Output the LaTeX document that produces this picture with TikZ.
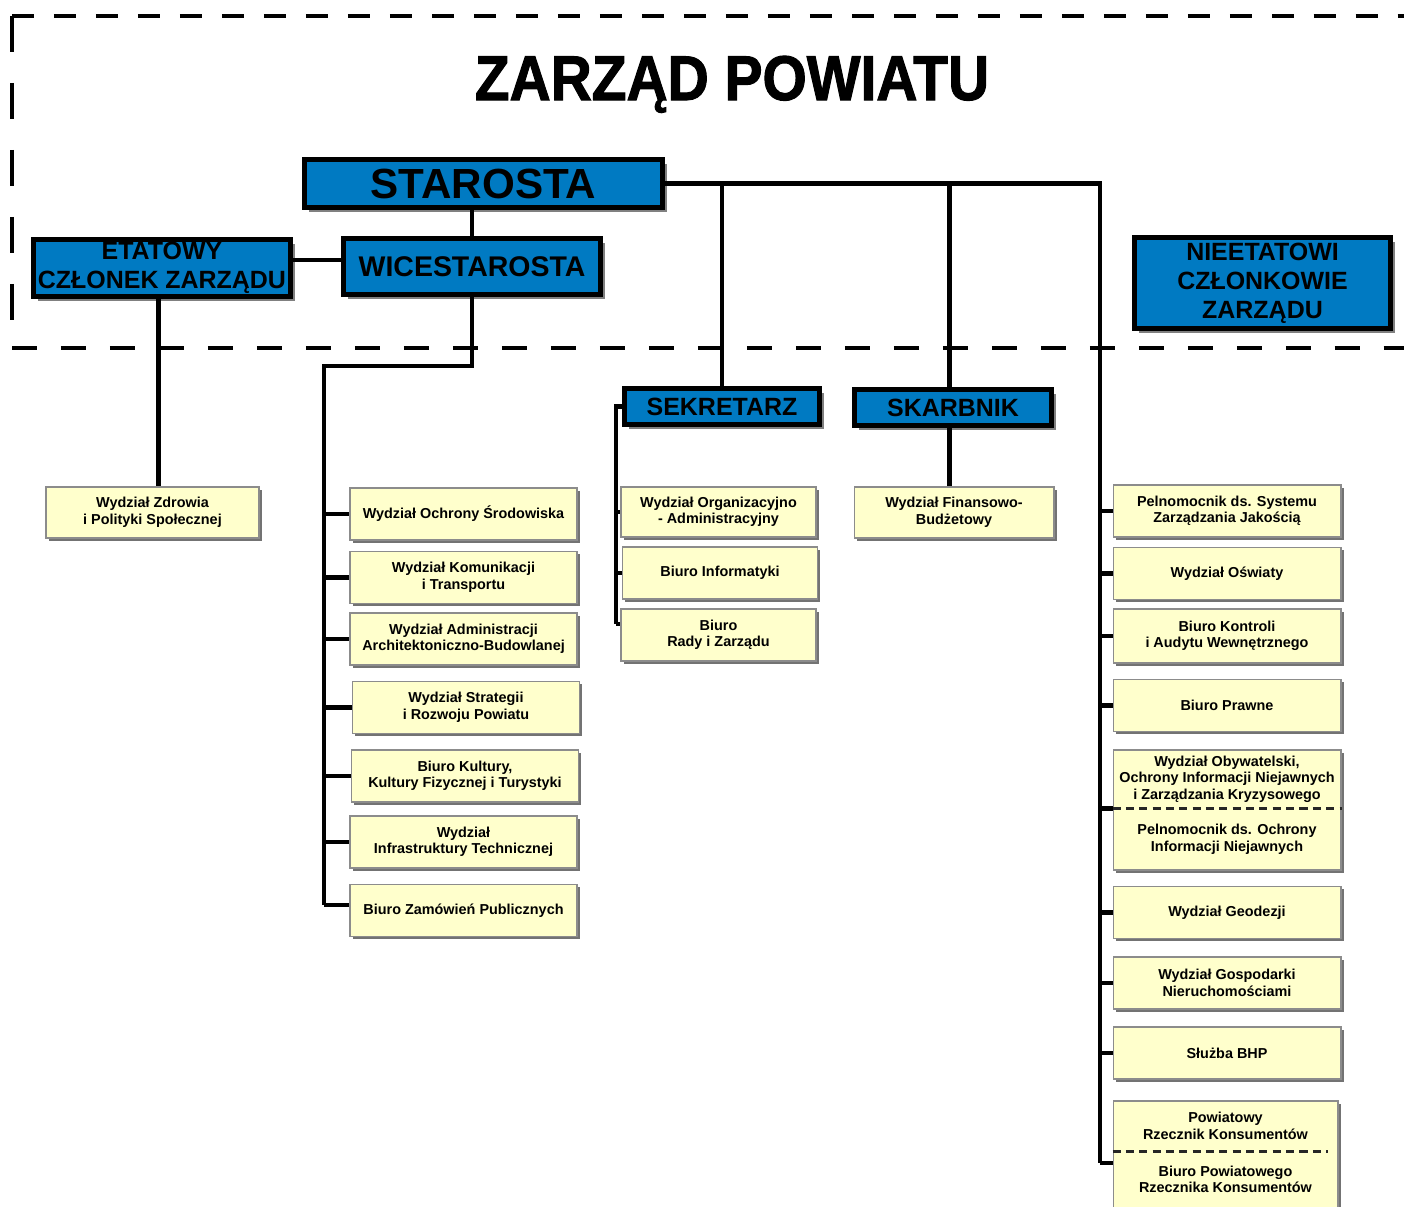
\documentclass[tikz,border=0pt]{standalone}
\usepackage{fontspec}
\setmainfont{Liberation Sans}
\newfontfamily\titlefont[FakeStretch=0.9, FakeBold=1.6]{Liberation Sans}
\usetikzlibrary{positioning, shadows}

\definecolor{boardblue}{RGB}{0,122,194}
\definecolor{unityellow}{RGB}{255,255,204}

\begin{document}
\begin{tikzpicture}[
    x = 0.02cm, y = -0.02cm,
    head/.style = {draw, line width=2.6pt, fill=boardblue, inner sep=0pt, align=center,
        drop shadow={shadow xshift=2.8pt, shadow yshift=-2.8pt, fill=black!50, opacity=1}},
    unit/.style = {draw=black!45, line width=0.6pt, fill=unityellow, inner sep=0pt, align=center,
        minimum width=#1, minimum height=1.04cm, font=\fontsize{8.2}{9.4}\selectfont\bfseries,
        drop shadow={shadow xshift=1.5pt, shadow yshift=-1.5pt, fill=black!55, opacity=1}},
    part/.style = {inner sep=0pt, align=center, font=\fontsize{8.2}{9.4}\selectfont\bfseries},
    divider/.style = {draw=black!85, line width=1.7pt, dash pattern=on 4.6pt off 3pt},
    line/.style = {line width=2.4pt},
    stub/.style = {line width=2.8pt},
    frame/.style = {line width=2.4pt}
]
    \useasboundingbox (0,0) rectangle (1404,1207);

    % Frame of the board
    \draw [frame, dash pattern=on 0.44cm off 0.4cm] (12,16) -- (1404,16);
    \draw [frame, dash pattern=on 0.72cm off 0.62cm] (12,16) -- (12,325);
    \draw [frame, line width=2.8pt, dash pattern=on 0.5cm off 0.48cm] (12,348) -- (1404,348);

    % Board
    \node [anchor=base, font=\titlefont\bfseries\fontsize{36}{40}\selectfont] (title) at (732,100) {ZARZĄD POWIATU};
    \node [head, minimum width=7.16cm, minimum height=0.96cm, font=\fontsize{24}{26}\selectfont\bfseries] (starosta) at (483.5,183.5) {STAROSTA};
    \node [head, minimum width=5.14cm, minimum height=1.12cm, font=\fontsize{16.2}{18}\selectfont\bfseries] (wicestarosta) at (472,266.5) {WICESTAROSTA};
    \node [head, minimum width=5.14cm, minimum height=1.14cm, font=\fontsize{14.2}{16.5}\selectfont\bfseries] (etatowy) at (162,268) {ETATOWY\\CZŁONEK ZARZĄDU};
    \node [head, minimum width=5.12cm, minimum height=1.82cm, font=\fontsize{14.2}{16.5}\selectfont\bfseries] (nieetatowi) at (1262.5,283) {NIEETATOWI\\CZŁONKOWIE\\ZARZĄDU};
    \node [head, minimum width=3.9cm, minimum height=0.72cm, font=\fontsize{14.2}{16}\selectfont\bfseries] (sekretarz) at (722,406.5) {SEKRETARZ};
    \node [head, minimum width=3.94cm, minimum height=0.72cm, font=\fontsize{14.2}{16}\selectfont\bfseries] (skarbnik) at (953,407.5) {SKARBNIK};

    % Units
    \node [unit=4.26cm, minimum height=1.02cm] (zdrowie) at (152.5,512.5) {Wydział Zdrowia\\i Polityki Społecznej};

    \node [unit=4.54cm] (ochrona) at (463.5,514) {Wydział Ochrony Środowiska};
    \node [unit=4.54cm] (komunikacja) at (463.5,577.5) {Wydział Komunikacji\\i Transportu};
    \node [unit=4.54cm] (architektura) at (463.5,639) {Wydział Administracji\\Architektoniczno-Budowlanej};
    \node [unit=4.54cm] (strategia) at (466,707.5) {Wydział Strategii\\i Rozwoju Powiatu};
    \node [unit=4.54cm] (kultura) at (465,776) {Biuro Kultury,\\Kultury Fizycznej i Turystyki};
    \node [unit=4.54cm] (infrastruktura) at (463.5,842) {Wydział\\Infrastruktury Technicznej};
    \node [unit=4.54cm] (zamowienia) at (463.5,910.5) {Biuro Zamówień Publicznych};

    \node [unit=3.9cm, minimum height=1.0cm] (organizacja) at (718.5,512) {Wydział Organizacyjno\\- Administracyjny};
    \node [unit=3.9cm] (informatyka) at (720,573) {Biuro Informatyki};
    \node [unit=3.9cm] (rada) at (718.5,635) {Biuro\\Rady i Zarządu};

    \node [unit=4.0cm, minimum height=1.02cm] (finanse) at (954,512.5) {Wydział Finansowo-\\Budżetowy};

    \node [unit=4.56cm] (jakosc) at (1227,511) {Pelnomocnik ds. Systemu\\Zarządzania Jakością};
    \node [unit=4.56cm] (oswiata) at (1227,573.5) {Wydział Oświaty};
    \node [unit=4.56cm, minimum height=1.08cm] (kontrola) at (1227,636) {Biuro Kontroli\\i Audytu Wewnętrznego};
    \node [unit=4.56cm] (prawne) at (1227,705.5) {Biuro Prawne};
    \node [unit=4.56cm, minimum height=2.4cm] (obywatel) at (1227,810) {};
    \node [part, minimum height=1.16cm, anchor=north] (obywtop) at (obywatel.north) {Wydział Obywatelski,\\Ochrony Informacji Niejawnych\\i Zarządzania Kryzysowego};
    \node [part, minimum height=1.24cm, anchor=north] (obywbot) at (obywtop.south) {Pelnomocnik ds. Ochrony\\Informacji Niejawnych};
    \node [unit=4.56cm] (geodezja) at (1227,912.5) {Wydział Geodezji};
    \node [unit=4.56cm] (gospodarka) at (1227,983) {Wydział Gospodarki\\Nieruchomościami};
    \node [unit=4.56cm] (bhp) at (1227,1053) {Służba BHP};
    \node [unit=4.5cm, minimum height=2.28cm] (rzecznik) at (1225.5,1158) {};
    \node [part, minimum height=1.0cm, anchor=north] (rzecznikpow) at (rzecznik.north) {Powiatowy\\Rzecznik Konsumentów};
    \node [part, minimum height=1.12cm, anchor=north] (rzecznikbiuro) at (rzecznikpow.south) {Biuro Powiatowego\\Rzecznika Konsumentów};

    \draw [divider] (obywtop.south -| obywatel.west) -- (obywtop.south -| obywatel.east);
    \draw [divider, shorten >=6pt] (rzecznikpow.south -| rzecznik.west) -- (rzecznikpow.south -| rzecznik.east);

    % Edges
    \coordinate (wturn) at (324,366);
    \coordinate (wbus) at (324,905);
    \coordinate (sbus) at (616,624);
    \coordinate (rbus) at (1100,1163);

    \draw [line] (wicestarosta.north |- starosta.south) -- (wicestarosta.north);
    \draw [line] ([yshift=4.5pt]etatowy.east) -- ([yshift=4.5pt]etatowy.east -| wicestarosta.west);
    \draw [line] ([xshift=-2pt]etatowy.south) -- ([xshift=-2pt]etatowy.south |- zdrowie.north);
    \draw [line] (starosta.east) -| (rbus);
    \draw [line] (sekretarz.north |- starosta.east) -- (sekretarz.north);
    \draw [line] ([xshift=-2pt]skarbnik.north |- starosta.east) -- ([xshift=-2pt]skarbnik.north);
    \draw [line] ([xshift=-2pt]skarbnik.south) -- ([xshift=-2pt]skarbnik.south |- finanse.north);

    \draw [line] (wicestarosta.south) |- (wturn) -- (wbus);
    \draw [stub] (wturn |- ochrona.west) -- (ochrona.west)
                 (wturn |- komunikacja.west) -- (komunikacja.west)
                 (wturn |- architektura.west) -- (architektura.west)
                 (wturn |- strategia.west) -- (strategia.west)
                 (wturn |- kultura.west) -- (kultura.west)
                 (wturn |- infrastruktura.west) -- (infrastruktura.west)
                 (wbus) -- (wbus -| zamowienia.west);

    \draw [line] (sekretarz.west) -| (sbus);
    \draw [stub] (sbus |- organizacja.west) -- (organizacja.west)
                 (sbus |- informatyka.west) -- (informatyka.west)
                 (sbus) -- (sbus -| rada.west);

    \draw [stub] (rbus |- jakosc.west) -- (jakosc.west)
                 (rbus |- oswiata.west) -- (oswiata.west)
                 (rbus |- kontrola.west) -- (kontrola.west)
                 (rbus |- prawne.west) -- (prawne.west)
                 (rbus |- obywtop.south) -- (obywtop.south -| obywatel.west)
                 (rbus |- geodezja.west) -- (geodezja.west)
                 (rbus |- gospodarka.west) -- (gospodarka.west)
                 (rbus |- bhp.west) -- (bhp.west)
                 (rbus) -- (rbus -| rzecznik.west);

\end{tikzpicture}
\end{document}
